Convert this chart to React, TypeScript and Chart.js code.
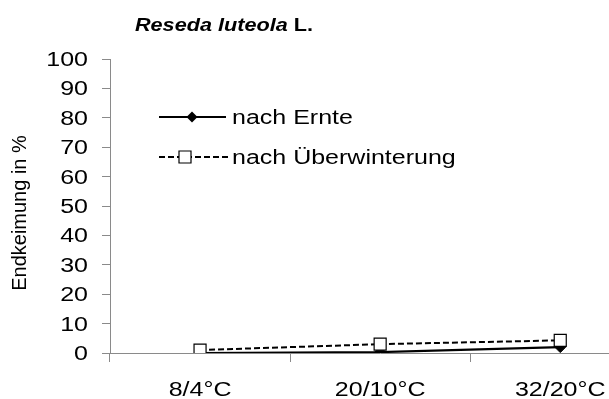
import React, { useEffect, useRef } from 'react';
import { Chart, registerables } from 'chart.js';

Chart.register(...registerables);

const categories = ['8/4°C', '20/10°C', '32/20°C'];
const nachErnte = [0, 0.3, 2];
const nachUeberwinterung = [1, 3, 4.3];
const seriesNames = ['nach Ernte', 'nach Überwinterung'];
const yMin = 0;
const yMax = 100;
const yStep = 10;
const titleItalic = 'Reseda luteola';
const titleRest = ' L.';
const yTitle = 'Endkeimung in %';

const FONT = "'Liberation Sans', Arial, sans-serif";
const SX = 1.25;
const AXIS = '#8a8a8a';

function wideText(ctx: CanvasRenderingContext2D, text: string, x: number, y: number, align: CanvasTextAlign, font: string, sx: number) {
  ctx.save();
  ctx.font = font;
  ctx.translate(x, y);
  ctx.scale(sx, 1);
  ctx.textAlign = align;
  ctx.textBaseline = 'alphabetic';
  ctx.fillStyle = '#000';
  ctx.fillText(text, 0, 0);
  ctx.restore();
}

function drawDiamond(ctx: CanvasRenderingContext2D, x: number, y: number, r: number) {
  ctx.beginPath();
  ctx.moveTo(x - r, y);
  ctx.lineTo(x, y - r);
  ctx.lineTo(x + r, y);
  ctx.lineTo(x, y + r);
  ctx.closePath();
  ctx.fillStyle = '#000';
  ctx.fill();
}

function drawSquare(ctx: CanvasRenderingContext2D, x: number, y: number, s: number) {
  ctx.beginPath();
  ctx.rect(x - s / 2, y - s / 2, s, s);
  ctx.fillStyle = '#fff';
  ctx.fill();
  ctx.lineWidth = 1.2;
  ctx.strokeStyle = '#000';
  ctx.stroke();
}

const textPlugin = {
  id: 'textPlugin',
  afterDraw(chart: any) {
    const ctx: CanvasRenderingContext2D = chart.ctx;
    const xs = chart.scales.x;
    const ys = chart.scales.y;

    // title
    const f1 = `italic bold 19px ${FONT}`;
    const f2 = `bold 19px ${FONT}`;
    ctx.save();
    ctx.font = f1;
    const w1 = ctx.measureText(titleItalic).width;
    ctx.font = f2;
    const w2 = ctx.measureText(titleRest).width;
    ctx.restore();
    const tcx = 224;
    const start = tcx - ((w1 + w2) * 1.14) / 2;
    wideText(ctx, titleItalic, start, 31, 'left', f1, 1.14);
    wideText(ctx, titleRest, start + w1 * 1.14, 31, 'left', f2, 1.14);

    // y title
    ctx.save();
    ctx.translate(26, 213);
    ctx.rotate(-Math.PI / 2);
    ctx.font = `20px ${FONT}`;
    ctx.textAlign = 'center';
    ctx.textBaseline = 'alphabetic';
    ctx.fillStyle = '#000';
    ctx.fillText(yTitle, 0, 0);
    ctx.restore();

    // x tick labels
    categories.forEach((c, i) => {
      wideText(ctx, c, xs.getPixelForValue(i), 396, 'center', `20px ${FONT}`, SX);
    });

    // y tick labels
    ys.ticks.forEach((t: any) => {
      const y = ys.getPixelForValue(t.value);
      wideText(ctx, String(t.label), 88, y + 7, 'right', `20px ${FONT}`, SX);
    });

    // legend
    const rows = [117, 157];
    ctx.save();
    ctx.strokeStyle = '#000';
    ctx.lineWidth = 2.2;
    ctx.beginPath();
    ctx.moveTo(159, rows[0]);
    ctx.lineTo(226, rows[0]);
    ctx.stroke();
    drawDiamond(ctx, 192, rows[0], 5.5);
    ctx.lineWidth = 2;
    ctx.setLineDash([6, 3]);
    ctx.beginPath();
    ctx.moveTo(159, rows[1]);
    ctx.lineTo(229, rows[1]);
    ctx.stroke();
    ctx.setLineDash([]);
    drawSquare(ctx, 185, rows[1], 12);
    ctx.restore();
    wideText(ctx, seriesNames[0], 232, rows[0] + 7, 'left', `20px ${FONT}`, SX);
    wideText(ctx, seriesNames[1], 232, rows[1] + 7, 'left', `20px ${FONT}`, SX);
  },
};

export default function App() {
  const ref = useRef<HTMLCanvasElement>(null);
  useEffect(() => {
    if (!ref.current) return;
    const chart = new Chart(ref.current, {
      type: 'line',
      data: {
        labels: categories,
        datasets: [
          {
            label: seriesNames[0],
            data: nachErnte,
            borderColor: '#000',
            backgroundColor: '#000',
            borderWidth: 2.2,
            pointStyle: 'rectRot',
            pointRadius: 5.5,
            pointBorderWidth: 1,
            pointBackgroundColor: '#000',
            pointBorderColor: '#000',
            tension: 0,
            order: 2,
          },
          {
            label: seriesNames[1],
            data: nachUeberwinterung,
            borderColor: '#000',
            backgroundColor: '#fff',
            borderWidth: 2,
            borderDash: [6, 3],
            pointStyle: 'rect',
            pointRadius: 8.5,
            pointBorderWidth: 1.2,
            pointBackgroundColor: '#fff',
            pointBorderColor: '#000',
            tension: 0,
            order: 1,
          },
        ],
      },
      options: {
        responsive: false,
        animation: false,
        events: [],
        layout: { padding: { left: 0, top: 59, right: 7, bottom: 0 } },
        plugins: {
          legend: { display: false },
          title: { display: false },
          tooltip: { enabled: false },
        },
        scales: {
          x: {
            type: 'category',
            offset: true,
            grid: {
              offset: true,
              drawOnChartArea: false,
              drawTicks: true,
              tickLength: 9,
              color: AXIS,
            },
            border: { display: true, color: AXIS, width: 1 },
            ticks: { display: false },
            afterFit: (s: any) => {
              s.height = 46;
            },
          },
          y: {
            min: yMin,
            max: yMax,
            ticks: { display: false, stepSize: yStep },
            grid: {
              drawOnChartArea: false,
              drawTicks: true,
              tickLength: 8,
              color: AXIS,
            },
            border: { display: true, color: AXIS, width: 1 },
            afterFit: (s: any) => {
              s.width = 110;
            },
          },
        },
      },
      plugins: [textPlugin],
    });
    return () => chart.destroy();
  }, []);
  return (
    <div style={{ position: 'fixed', left: 0, top: 0, width: 609, height: 399, overflow: 'hidden', background: '#fff' }}>
      <canvas ref={ref} width={660} height={399} style={{ width: 660, height: 399, display: 'block' }} />
    </div>
  );
}
